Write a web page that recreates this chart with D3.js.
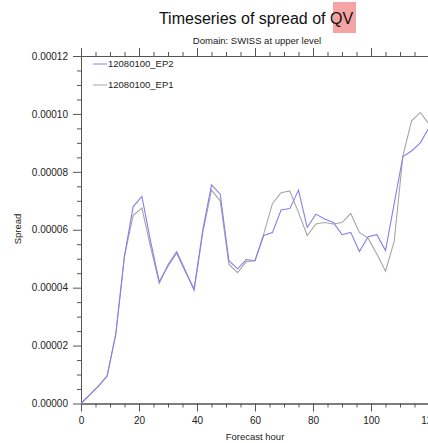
<!DOCTYPE html>
<html>
<head>
<meta charset="utf-8">
<script src="https://cdn.jsdelivr.net/npm/d3@7"></script>
<style>
  body { margin: 0; background: #fff; }
  svg { font-family: "Liberation Sans", Arial, sans-serif; }
</style>
</head>
<body>
<svg id="chart" width="428" height="443"></svg>
<script>
// data (spread of QV, every 3 hours)
const hours = [0, 3, 6, 9, 12, 15, 18, 21, 24, 27, 30, 33, 36, 39, 42, 45, 48, 51, 54, 57, 60,
  63, 66, 69, 72, 75, 78, 81, 84, 87, 90, 93, 96, 99, 102, 105, 108, 111, 114, 117, 120];
const ep2 = [0, 0.3e-5, 0.6e-5, 0.95e-5, 2.4e-5, 5.1e-5, 6.8e-5, 7.15e-5, 5.6e-5, 4.2e-5, 4.75e-5,
  5.2e-5, 4.55e-5, 3.95e-5, 6.0e-5, 7.55e-5, 7.23e-5, 4.93e-5, 4.65e-5, 4.97e-5, 4.93e-5,
  5.8e-5, 5.9e-5, 6.68e-5, 6.73e-5, 7.37e-5, 6.08e-5, 6.54e-5, 6.37e-5, 6.25e-5, 5.83e-5,
  5.91e-5, 5.25e-5, 5.76e-5, 5.83e-5, 5.28e-5, 6.9e-5, 8.53e-5, 8.72e-5, 9.0e-5, 9.53e-5];
const ep1 = [0, 0.3e-5, 0.6e-5, 0.95e-5, 2.4e-5, 5.1e-5, 6.5e-5, 6.75e-5, 5.4e-5, 4.15e-5, 4.8e-5,
  5.25e-5, 4.6e-5, 3.9e-5, 5.9e-5, 7.37e-5, 7.0e-5, 4.8e-5, 4.52e-5, 4.9e-5, 4.93e-5,
  5.85e-5, 6.9e-5, 7.28e-5, 7.34e-5, 6.6e-5, 5.8e-5, 6.2e-5, 6.25e-5, 6.2e-5, 6.25e-5,
  6.56e-5, 5.91e-5, 5.71e-5, 5.16e-5, 4.57e-5, 5.6e-5, 8.55e-5, 9.76e-5, 10.05e-5, 9.65e-5];
const xTicks = [0, 20, 40, 60, 80, 100, 120];
const yTicks = [0, 0.00002, 0.00004, 0.00006, 0.00008, 0.00010, 0.00012];
const seriesNames = ["12080100_EP2", "12080100_EP1"];

const svg = d3.select("#chart");
const m = { left: 81, right: 429, top: 56, bottom: 403.5 };

const x = d3.scaleLinear().domain([0, 120]).range([m.left, m.right]);
const y = d3.scaleLinear().domain([0, 0.00012]).range([m.bottom, m.top]);

const axisColor = "#555";

// title, with the highlight behind "QV"
svg.append("rect")
  .attr("x", 333).attr("y", 2).attr("width", 23).attr("height", 31)
  .attr("fill", "#f5a3a3");
svg.append("text")
  .attr("x", 256).attr("y", 24)
  .attr("text-anchor", "middle")
  .attr("font-size", 16).attr("fill", "#111")
  .text("Timeseries of spread of QV");
svg.append("text")
  .attr("x", 257).attr("y", 44)
  .attr("text-anchor", "middle")
  .attr("font-size", 9.5).attr("fill", "#222")
  .text("Domain: SWISS at upper level");

// minor ticks
const xMinor = d3.range(0, 121, 5).filter(v => v % 20 !== 0);
const yMinor = d3.range(0, 0.000121, 0.000005).filter(v => Math.round(v * 1e6) % 20 !== 0);

function styleAxis(g) {
  g.selectAll("path, line").attr("stroke", axisColor);
  g.selectAll("text").attr("fill", "#222").attr("font-size", 10);
}

svg.append("g").attr("transform", `translate(0,${m.bottom})`)
  .call(d3.axisBottom(x).tickValues(xTicks).tickSize(8).tickPadding(5).tickSizeOuter(0))
  .call(styleAxis);
svg.append("g").attr("transform", `translate(0,${m.bottom})`)
  .call(d3.axisBottom(x).tickValues(xMinor).tickSize(4).tickFormat("").tickSizeOuter(0))
  .call(styleAxis);
svg.append("g").attr("transform", `translate(0,${m.top})`)
  .call(d3.axisTop(x).tickValues(xTicks).tickSize(8).tickFormat("").tickSizeOuter(0))
  .call(styleAxis);
svg.append("g").attr("transform", `translate(0,${m.top})`)
  .call(d3.axisTop(x).tickValues(xMinor).tickSize(4).tickFormat("").tickSizeOuter(0))
  .call(styleAxis);
svg.append("g").attr("transform", `translate(${m.left},0)`)
  .call(d3.axisLeft(y).tickValues(yTicks).tickSize(8).tickPadding(5).tickSizeOuter(0)
    .tickFormat(d3.format(".5f")))
  .call(styleAxis);
svg.append("g").attr("transform", `translate(${m.left},0)`)
  .call(d3.axisLeft(y).tickValues(yMinor).tickSize(4).tickFormat("").tickSizeOuter(0))
  .call(styleAxis);

// axis titles
svg.append("text")
  .attr("x", 255).attr("y", 440)
  .attr("text-anchor", "middle")
  .attr("font-size", 9.5).attr("fill", "#222")
  .text("Forecast hour");
svg.append("text")
  .attr("transform", "translate(21,229) rotate(-90)")
  .attr("text-anchor", "middle")
  .attr("font-size", 9.5).attr("fill", "#222")
  .text("Spread");

// lines
const colors = ["#8080ee", "#a6a6a6"];
const line = d3.line().x((d, i) => x(hours[i])).y(d => y(d));

svg.append("path").datum(ep1)
  .attr("d", line).attr("fill", "none")
  .attr("stroke", colors[1]).attr("stroke-width", 1.1);
svg.append("path").datum(ep2)
  .attr("d", line).attr("fill", "none")
  .attr("stroke", colors[0]).attr("stroke-width", 1.1);

// legend
const legend = svg.append("g");
seriesNames.forEach((name, i) => {
  const ly = 64 + i * 21;
  legend.append("line")
    .attr("x1", 93).attr("x2", 107).attr("y1", ly).attr("y2", ly)
    .attr("stroke", colors[i]).attr("stroke-width", 1);
  legend.append("text")
    .attr("x", 108).attr("y", ly + 3)
    .attr("font-size", 9.5).attr("fill", "#222")
    .text(name);
});
</script>
</body>
</html>
